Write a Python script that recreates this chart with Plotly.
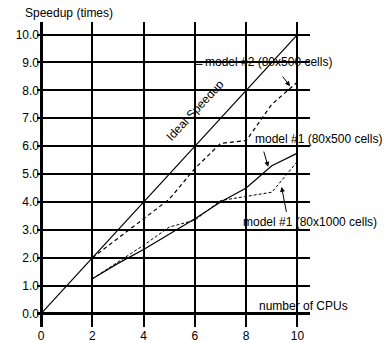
import plotly.graph_objects as go

cpus = [2, 3, 4, 5, 6, 7, 8, 9, 10]
ideal_x = [0, 10]
ideal_y = [0, 10]
model2_500 = [2.0, 2.7, 3.4, 4.1, 5.2, 6.1, 6.2, 7.5, 8.3]
model1_500 = [1.25, 1.8, 2.3, 2.85, 3.4, 4.0, 4.5, 5.3, 5.75]
model1_1000 = [1.25, 1.85, 2.45, 3.1, 3.35, 4.05, 4.2, 4.35, 5.45]
x_ticks = [0, 2, 4, 6, 8, 10]
y_ticks = [0, 1, 2, 3, 4, 5, 6, 7, 8, 9, 10]

FONT = "Liberation Sans, Arial, sans-serif"

fig = go.Figure()
fig.add_trace(go.Scatter(x=ideal_x, y=ideal_y, mode="lines",
                         line=dict(color="black", width=1.2), showlegend=False))
fig.add_trace(go.Scatter(x=cpus, y=model2_500, mode="lines",
                         line=dict(color="black", width=1.2, dash="4px,3px"), showlegend=False))
fig.add_trace(go.Scatter(x=cpus, y=model1_500, mode="lines",
                         line=dict(color="black", width=1.2), showlegend=False))
fig.add_trace(go.Scatter(x=cpus, y=model1_1000, mode="lines",
                         line=dict(color="black", width=1.0, dash="3px,2px"), showlegend=False))

ann_font = dict(family=FONT, size=12, color="black")
fig.add_annotation(text="Speedup (times)", xref="paper", yref="paper", x=-0.052, y=1.03,
                   xanchor="left", yanchor="middle", showarrow=False, font=ann_font)
annotations = [
    dict(text="Ideal Speedup", x=6.02, y=7.3, xanchor="center", yanchor="middle", textangle=-47),
    dict(text="model #2 (80x500 cells)", x=6.32, y=9.01, xanchor="left", yanchor="middle"),
    dict(text="model #1 (80x500 cells)", x=8.27, y=6.25, xanchor="left", yanchor="middle"),
    dict(text="model #1 (80x1000 cells)", x=7.8, y=3.28, xanchor="left", yanchor="middle"),
    dict(text="number of CPUs", x=8.42, y=0.27, xanchor="left", yanchor="middle"),
]
for a in annotations:
    fig.add_annotation(xref="x", yref="y", showarrow=False, font=ann_font, **a)

arrows = [
    ((9.71, 8.15), (9.38, 8.55)),
    ((8.86, 5.26), (8.67, 5.86)),
    ((9.38, 4.54), (9.58, 3.59)),
]
for (hx, hy), (tx, ty) in arrows:
    fig.add_annotation(x=hx, y=hy, ax=tx, ay=ty, xref="x", yref="y", axref="x", ayref="y",
                       text="", showarrow=True, arrowhead=2, arrowsize=1, arrowwidth=1,
                       arrowcolor="black", standoff=0, startstandoff=0)

fig.add_shape(type="line", x0=6.0, x1=6.3, y0=8.93, y1=8.93, xref="x", yref="y",
              line=dict(color="black", width=1))

fig.update_xaxes(range=[-0.16, 10.49], tickvals=x_ticks, ticktext=[str(v) for v in x_ticks],
                 showgrid=True, gridcolor="black", gridwidth=1.6,
                 zeroline=True, zerolinecolor="black", zerolinewidth=2.8,
                 showline=False, ticks="", automargin=False,
                 tickfont=dict(family=FONT, size=12, color="black"))
fig.update_yaxes(range=[-0.48, 10.45], tickvals=y_ticks, ticktext=[f"{v:.1f}" for v in y_ticks],
                 showgrid=True, gridcolor="black", gridwidth=1.6,
                 zeroline=True, zerolinecolor="black", zerolinewidth=2.8,
                 showline=False, ticks="", automargin=False, ticklabelstandoff=-3,
                 tickfont=dict(family=FONT, size=12, color="black"))

fig.update_layout(width=391, height=343, margin=dict(l=37, r=81, t=22, b=16),
                  plot_bgcolor="white", paper_bgcolor="white", showlegend=False)

fig.write_html("out.html", config={"displayModeBar": False},
               post_script="document.body.style.margin='0';document.body.style.overflow='hidden';")
